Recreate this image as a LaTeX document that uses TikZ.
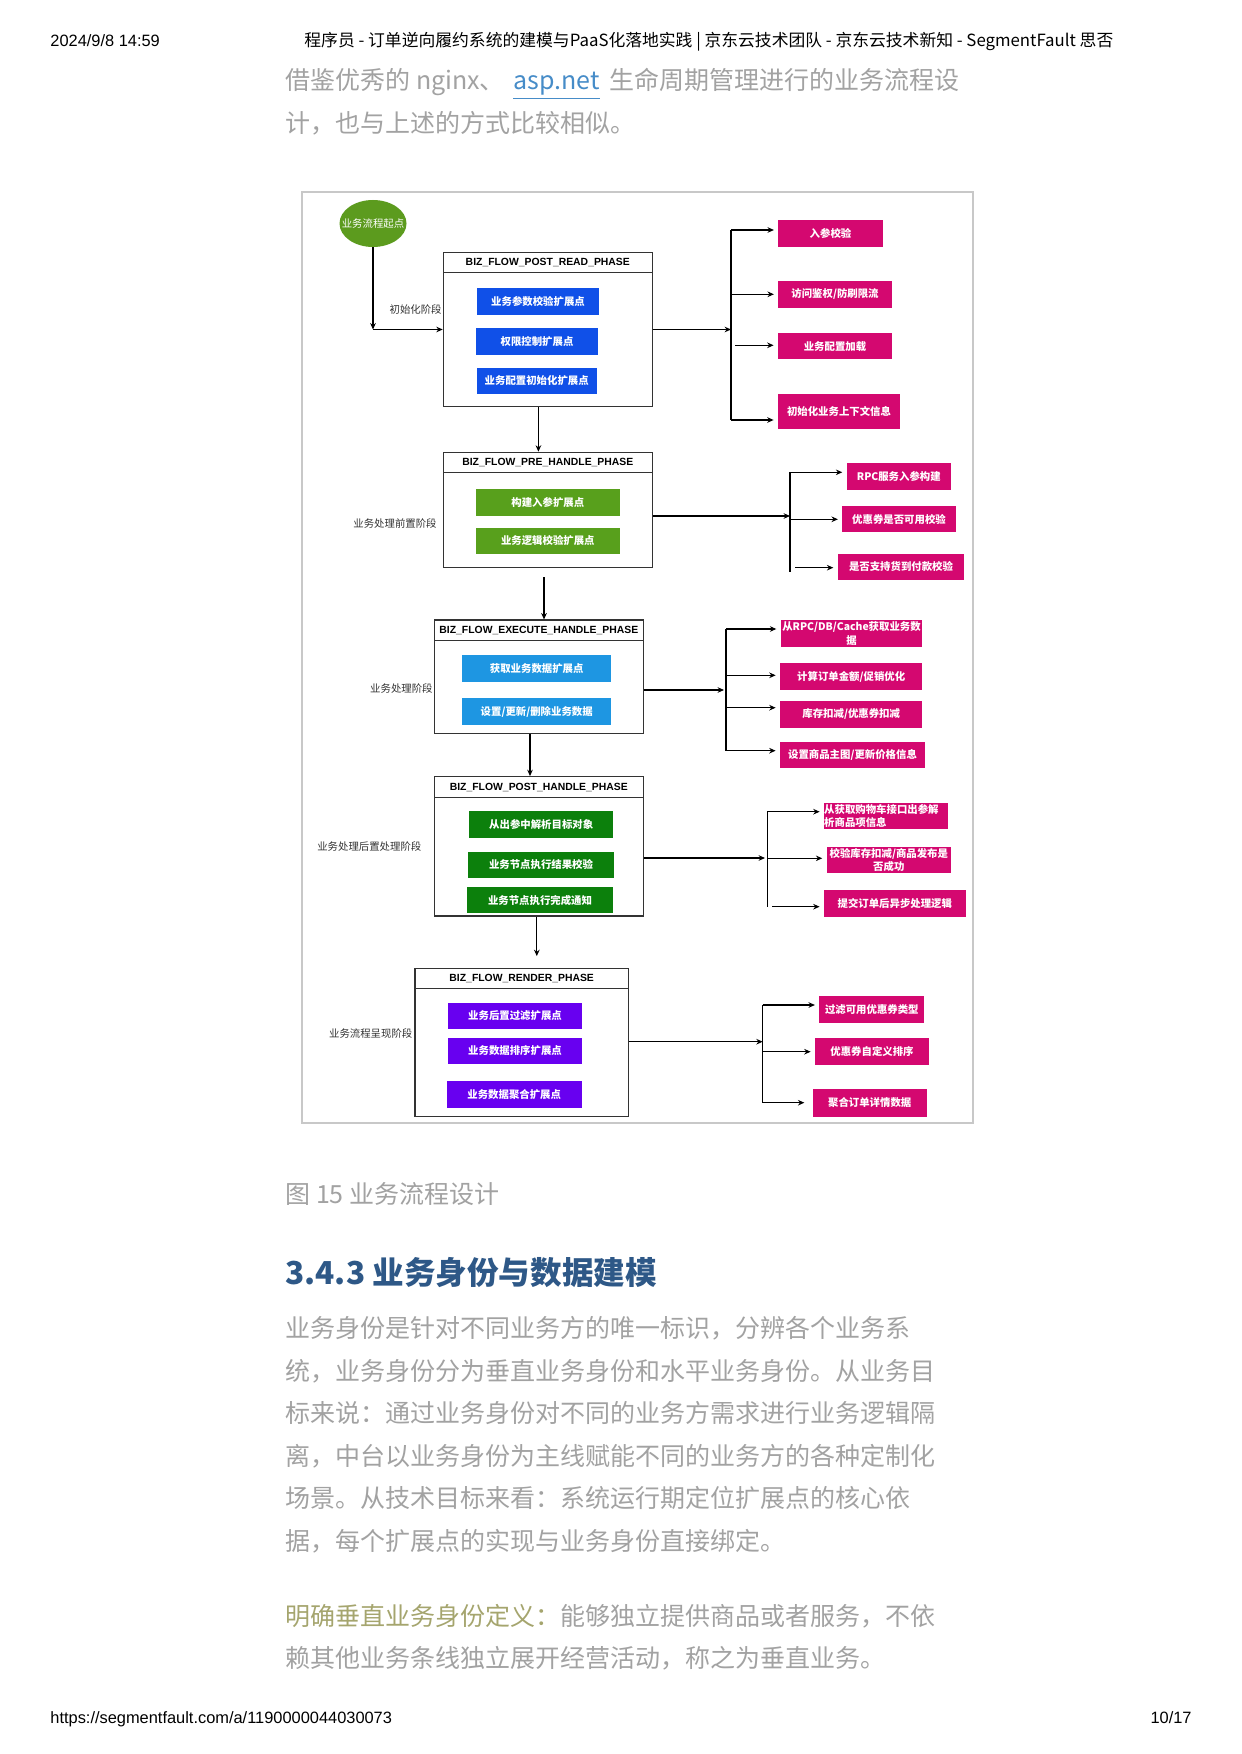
\documentclass[tikz,border=0pt]{standalone}
\usepackage{fontspec}
\setmainfont{Noto Sans CJK SC}
\newfontfamily\arialfont{Liberation Sans}
\usetikzlibrary{shapes.geometric,arrows.meta}

\definecolor{startgreen}{RGB}{92,155,30}
\definecolor{extblue}{RGB}{16,80,232}
\definecolor{extgreen}{RGB}{88,160,28}
\definecolor{extsky}{RGB}{30,150,226}
\definecolor{extdark}{RGB}{12,128,12}
\definecolor{extviolet}{RGB}{104,0,240}
\definecolor{actred}{RGB}{212,8,112}
\definecolor{framegray}{RGB}{200,200,200}
\definecolor{bodygray}{RGB}{162,162,162}
\definecolor{linkblue}{RGB}{70,140,200}
\definecolor{headblue}{RGB}{46,88,135}
\definecolor{olive}{RGB}{165,165,110}

\newcommand\hdfont{\arialfont\bfseries\fontsize{5.2pt}{6pt}\selectfont}
\newcommand\xtfont{\bfseries\fontsize{5.2pt}{6.8pt}\selectfont}
\newcommand\lbfont{\fontsize{5.2pt}{6pt}\selectfont}

\tikzset{
  px/.style 2 args={minimum width=#1*0.5pt, minimum height=#2*0.5pt},
  frame/.style={draw=framegray, line width=1pt, inner sep=0pt},
  start/.style={ellipse, fill=startgreen, inner sep=0pt},
  startlbl/.style={text=white, font=\lbfont, inner sep=0pt},
  phase/.style={draw=black!80, line width=0.6pt, inner sep=0pt},
  phasehead/.style={draw=black!80, line width=0.6pt, font=\hdfont, inner sep=0pt},
  ext/.style={fill=#1, text=white, font=\xtfont, inner sep=0pt},
  act/.style={fill=actred, text=white, font=\xtfont, inner sep=0pt, align=center},
  stage/.style={anchor=east, inner sep=0pt, text=black!80, font=\lbfont},
  flow/.style={-{Stealth[length=3.2pt,width=2.8pt]}, line width=0.55pt},
  gap/.style={shorten >=2pt},
  bus/.style={line width=0.55pt},
  body/.style={anchor=base west, inner sep=0pt, text=bodygray, font=\fontsize{12.5pt}{16pt}\selectfont},
  pagetxt/.style={anchor=base west, inner sep=0pt, font=\fontsize{8.2pt}{10pt}\selectfont},
}

\begin{document}
\begin{tikzpicture}[x=0.5pt,y=-0.5pt]
\fill[white] (0,0) rectangle (1241,1754);
\useasboundingbox (0,0) rectangle (1241,1754);

% page head and text above the figure
\node[pagetxt, font=\arialfont\fontsize{8.2pt}{10pt}\selectfont] (date) at (50,47) {2024/9/8 14:59};
\node[pagetxt, font=\fontsize{8.4pt}{10pt}\selectfont] (title) at (304,47) {程序员 - 订单逆向履约系统的建模与PaaS化落地实践 | 京东云技术团队 - 京东云技术新知 - SegmentFault 思否};
\node[body] (t1) at (285,90) {借鉴优秀的 nginx、};
\node[body, text=linkblue] (t1link) at (513,90) {\underline{asp.net}};
\node[body] (t1end) at (609,90) {生命周期管理进行的业务流程设};
\node[body] (t2) at (285,133) {计，也与上述的方式比较相似。};

% figure
\node[frame, px={671.6}{931.6}] (fig) at (637.5,657.5) {};

\node[start, px={67}{47}, label={[startlbl]center:业务流程起点}] (begin) at (373,223.5) {};

% phases
\node[phase, px={209}{154.4}] (p1) at (547.8,329.5) {};
\node[phasehead, px={209}{20}, anchor=north] (p1h) at (p1.north) {BIZ\_FLOW\_POST\_READ\_PHASE};
\node[phase, px={209}{115.4}] (p2) at (547.8,510) {};
\node[phasehead, px={209}{20}, anchor=north] (p2h) at (p2.north) {BIZ\_FLOW\_PRE\_HANDLE\_PHASE};
\node[phase, px={209}{113.3}] (p3) at (538.8,676.7) {};
\node[phasehead, px={209}{20.7}, anchor=north] (p3h) at (p3.north) {BIZ\_FLOW\_EXECUTE\_HANDLE\_PHASE};
\node[phase, px={209}{139.3}] (p4) at (538.8,846.35) {};
\node[phasehead, px={209}{20.6}, anchor=north] (p4h) at (p4.north) {BIZ\_FLOW\_POST\_HANDLE\_PHASE};
\node[phase, px={213.3}{148.4}] (p5) at (521.7,1042.5) {};
\node[phasehead, px={213.3}{20}, anchor=north] (p5h) at (p5.north) {BIZ\_FLOW\_RENDER\_PHASE};

% extension points
\node[ext=extblue, px={122.6}{27.3}] (b11) at (538,301.3) {业务参数校验扩展点};
\node[ext=extblue, px={122.6}{27.3}] (b12) at (537,341.3) {权限控制扩展点};
\node[ext=extblue, px={120}{26.6}] (b13) at (536.7,381) {业务配置初始化扩展点};
\node[ext=extgreen, px={144.3}{26.7}] (b21) at (547.8,502.7) {构建入参扩展点};
\node[ext=extgreen, px={144.3}{26.6}] (b22) at (547.8,541) {业务逻辑校验扩展点};
\node[ext=extsky, px={148.7}{26.7}] (b31) at (536.7,668.3) {获取业务数据扩展点};
\node[ext=extsky, px={148.7}{26.7}] (b32) at (536.7,711.7) {设置/更新/删除业务数据};
\node[ext=extdark, px={144.3}{27.3}] (b41) at (541.2,824.7) {从出参中解析目标对象};
\node[ext=extdark, px={146.6}{26}] (b42) at (541,864.7) {业务节点执行结果校验};
\node[ext=extdark, px={146.6}{26}] (b43) at (540,900.3) {业务节点执行完成通知};
\node[ext=extviolet, px={133.4}{26.6}] (b51) at (515,1016) {业务后置过滤扩展点};
\node[ext=extviolet, px={133.4}{26.6}] (b52) at (515,1051) {业务数据排序扩展点};
\node[ext=extviolet, px={135}{26.7}] (b53) at (514.2,1094.3) {业务数据聚合扩展点};

% stage names
\node[stage] (s1) at (442,310) {初始化阶段};
\node[stage] (s2) at (437,523.3) {业务处理前置阶段};
\node[stage] (s3) at (433,688.3) {业务处理阶段};
\node[stage] (s4) at (421.7,846.7) {业务处理后置处理阶段};
\node[stage] (s5) at (412.7,1033.3) {业务流程呈现阶段};

% actions
\node[act, px={104.4}{26.7}] (a11) at (830.5,233.3) {入参校验};
\node[act, px={113.4}{26.7}] (a12) at (835,294.3) {访问鉴权/防刷限流};
\node[act, px={114}{26}] (a13) at (835,346.3) {业务配置加载};
\node[act, px={122}{35}] (a14) at (839,411.5) {初始化业务上下文信息};
\node[act, px={104.3}{26.7}] (a21) at (898.8,476.7) {RPC服务入参构建};
\node[act, px={113.4}{26.3}] (a22) at (899,519.2) {优惠券是否可用校验};
\node[act, px={126.6}{26}] (a23) at (901,567) {是否支持货到付款校验};
\node[act, px={141.6}{26.7}] (a31) at (851.5,633.3) {从RPC/DB/Cache获取业务数\\据};
\node[act, px={142.3}{26.7}] (a32) at (851.2,676.7) {计算订单金额/促销优化};
\node[act, px={142.3}{26.7}] (a33) at (851.2,714.3) {库存扣减/优惠券扣减};
\node[act, px={145}{26.6}] (a34) at (852.5,755) {设置商品主图/更新价格信息};
\node[act, px={124.3}{26.6}, align=left, text width=62pt] (a41) at (886.2,816) {从获取购物车接口出参解\\析商品项信息};
\node[act, px={124.3}{26.6}] (a42) at (888.8,860) {校验库存扣减/商品发布是\\否成功};
\node[act, px={141.7}{26.7}] (a43) at (894.8,903.3) {提交订单后异步处理逻辑};
\node[act, px={105}{26.7}] (a51) at (871.8,1009.3) {过滤可用优惠券类型};
\node[act, px={114}{26.7}] (a52) at (872,1051.7) {优惠券自定义排序};
\node[act, px={114}{27.4}] (a53) at (869.7,1103) {聚合订单详情数据};

% main flow
\coordinate (turn) at (373,329.5);
\draw[flow] (begin) -- (turn);
\draw[flow] (turn) -- (p1.west);
\draw[flow] ([xshift=-4.7pt]p1.south) -- ([xshift=-4.7pt]p2.north);
\draw[flow] ([xshift=-1.9pt,yshift=-4.5pt]p2.south) -- ([xshift=-1.9pt]p2.south |- p3.north);
\draw[flow] ([xshift=-4.4pt]p3.south) -- ([xshift=-4.4pt]p3.south |- p4.north);
\draw[flow, shorten >=5.8pt] ([xshift=-1pt]p4.south) -- ([xshift=-1pt]p4.south |- p5.north);

% branches of phase 1
\coordinate (j1) at (731,329.5);
\coordinate (j1a) at (731,230);
\coordinate (j1b) at (731,294.3);
\coordinate (j1c) at (735,345.3);
\coordinate (j1d) at (731,420);
\draw[flow] (p1.east) -- (j1);
\draw[bus] (j1a) -- (j1d);
\draw[flow,gap] (j1a) -- (a11.west |- j1a);
\draw[flow,gap] (j1b) -- (a12.west |- j1b);
\draw[flow,gap] (j1c) -- (a13.west |- j1c);
\draw[flow,gap] (j1d) -- (a14.west |- j1d);

% branches of phase 2
\coordinate (j2) at (790,516);
\coordinate (j2a) at (790,472.3);
\coordinate (j2b) at (790,519.3);
\coordinate (j2c) at (795,567.7);
\coordinate (j2d) at (790,571.7);
\draw[flow] (p2.east |- j2) -- (j2);
\draw[bus] (j2a) -- (j2d);
\draw[flow,gap] (j2a) -- (a21.west |- j2a);
\draw[flow,gap] (j2b) -- (a22.west |- j2b);
\draw[flow,gap] (j2c) -- (a23.west |- j2c);

% branches of phase 3
\coordinate (j3) at (724,690);
\coordinate (j3a) at (726,629);
\coordinate (j3b) at (726,675.3);
\coordinate (j3c) at (726,707.7);
\coordinate (j3d) at (726,750.7);
\draw[flow] (p3.east |- j3) -- (j3);
\draw[bus] (j3a) -- (j3d);
\draw[flow,gap] (j3a) -- (a31.west |- j3a);
\draw[flow,gap] (j3b) -- (a32.west |- j3b);
\draw[flow,gap] (j3c) -- (a33.west |- j3c);
\draw[flow,gap] (j3d) -- (a34.west |- j3d);

% branches of phase 4
\coordinate (j4) at (765,858);
\coordinate (j4a) at (767.3,811.7);
\coordinate (j4b) at (767.3,858.3);
\coordinate (j4c) at (772,906.7);
\coordinate (j4d) at (767.3,906.7);
\draw[flow] (p4.east |- j4) -- (j4);
\draw[bus] (j4a) -- (j4d);
\draw[flow,gap] (j4a) -- (a41.west |- j4a);
\draw[flow,gap] (j4b) -- (a42.west |- j4b);
\draw[flow,gap] (j4c) -- (a43.west |- j4c);

% branches of phase 5
\coordinate (j5) at (762.7,1041.7);
\coordinate (j5a) at (762.7,1005);
\coordinate (j5b) at (762.7,1051.7);
\coordinate (j5c) at (762.7,1102.7);
\draw[flow] (p5.east |- j5) -- (j5);
\draw[bus] (j5a) -- (j5c);
\draw[flow,gap] (j5a) -- (a51.west |- j5a);
\draw[flow,gap] (j5b) -- (a52.west |- j5b);
\draw[flow,gap, shorten >=4pt] (j5c) -- (a53.west |- j5c);

% text below the figure
\node[body, font=\fontsize{12.5pt}{16pt}\selectfont] (cap) at (285,1203.5) {图 15 业务流程设计};
\node[body, text=headblue, font=\bfseries\fontsize{15.8pt}{20pt}\selectfont] (sec) at (285,1284) {3.4.3 业务身份与数据建模};
\node[body] (l1) at (285,1337) {业务身份是针对不同业务方的唯一标识，分辨各个业务系};
\node[body] (l2) at (285,1380) {统，业务身份分为垂直业务身份和水平业务身份。从业务目};
\node[body] (l3) at (285,1422) {标来说：通过业务身份对不同的业务方需求进行业务逻辑隔};
\node[body] (l4) at (285,1465) {离，中台以业务身份为主线赋能不同的业务方的各种定制化};
\node[body] (l5) at (285,1507) {场景。从技术目标来看：系统运行期定位扩展点的核心依};
\node[body] (l6) at (285,1550) {据，每个扩展点的实现与业务身份直接绑定。};
\node[body] (l7) at (285,1625) {\textcolor{olive}{明确垂直业务身份定义：}能够独立提供商品或者服务，不依};
\node[body] (l8) at (285,1667) {赖其他业务条线独立展开经营活动，称之为垂直业务。};

% page foot
\node[pagetxt, font=\arialfont\fontsize{8.2pt}{10pt}\selectfont] (url) at (50,1723) {https://segmentfault.com/a/1190000044030073};
\node[pagetxt, anchor=base east, font=\arialfont\fontsize{8.2pt}{10pt}\selectfont] (pg) at (1192,1723) {10/17};
\end{tikzpicture}
\end{document}
